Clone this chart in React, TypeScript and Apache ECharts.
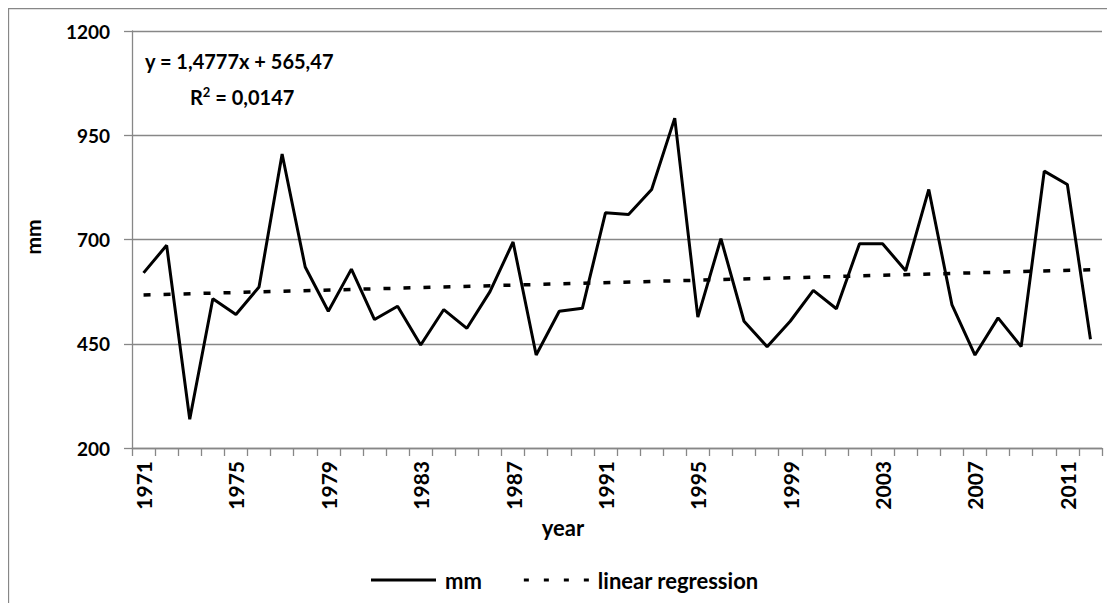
import React, { useEffect, useRef } from "react";
import * as echarts from "echarts";

const years = [
  "1971","1972","1973","1974","1975","1976","1977","1978","1979","1980",
  "1981","1982","1983","1984","1985","1986","1987","1988","1989","1990",
  "1991","1992","1993","1994","1995","1996","1997","1998","1999","2000",
  "2001","2002","2003","2004","2005","2006","2007","2008","2009","2010",
  "2011","2012",
];
const precipitation = [
  620, 686, 269, 558, 520, 586, 905, 634, 528, 629,
  508, 540, 447, 532, 487, 575, 694, 423, 528, 535,
  764, 760, 820, 991, 514, 702, 504, 443, 504, 578,
  534, 690, 690, 625, 820, 544, 423, 512, 443, 864,
  832, 461,
];
const trendEnds = [567, 627.5];
const yTicks = [200, 1200, 250];
const equationText = "y = 1,4777x + 565,47";
const r2Value = "0,0147";

const FONT = "Lato";
const GRAY = "#878787";

const SOLID_ICON = "path://M0,0H65V3H0Z";
const DASH_ICON = "path://M0,0H5V3H0Z M20,0H25V3H20Z M40,0H45V3H40Z M60,0H65V3H60Z";

export default function App() {
  const ref = useRef<HTMLDivElement>(null);
  useEffect(() => {
    if (!ref.current) return;
    const chart = echarts.init(ref.current, null, { renderer: "svg" });
    const trendData = [
      [0, trendEnds[0]],
      [years.length - 1, trendEnds[1]],
    ];
    chart.setOption({
      animation: false,
      backgroundColor: "#fff",
      grid: { left: 124, right: 13, top: 23, bottom: 155, containLabel: false },
      xAxis: {
        type: "category",
        data: years,
        boundaryGap: true,
        axisLine: { lineStyle: { color: GRAY, width: 1.3 } },
        axisTick: { show: true, length: 8, interval: 0, lineStyle: { color: GRAY, width: 1.3 } },
        axisLabel: {
          interval: 3,
          rotate: 90,
          margin: 13,
          color: "#000",
          fontFamily: FONT,
          fontWeight: "bold",
          fontSize: 21,
        },
        splitLine: { show: false },
      },
      yAxis: {
        type: "value",
        min: yTicks[0],
        max: yTicks[1],
        interval: yTicks[2],
        axisLine: { show: true, lineStyle: { color: GRAY, width: 1.3 } },
        axisTick: { show: true, length: 8, lineStyle: { color: GRAY, width: 1.3 } },
        axisLabel: {
          margin: 22,
          color: "#000",
          fontFamily: FONT,
          fontWeight: "bold",
          fontSize: 19,
          formatter: (v: number) => String(v),
        },
        splitLine: { show: true, lineStyle: { color: GRAY, width: 1.3 } },
      },
      legend: {
        left: 358,
        top: 556,
        itemWidth: 65,
        itemHeight: 3,
        itemGap: 42,
        textStyle: { color: "#000", fontFamily: FONT, fontWeight: "bold", fontSize: 22, padding: [0, 0, 0, 4] },
        data: [
          { name: "mm", icon: SOLID_ICON },
          { name: "linear regression", icon: DASH_ICON },
        ],
      },
      series: [
        {
          name: "mm",
          type: "line",
          data: precipitation,
          symbol: "none",
          lineStyle: { color: "#000", width: 3 },
          itemStyle: { color: "#000" },
          z: 3,
        },
        {
          name: "linear regression",
          type: "line",
          data: trendData,
          symbol: "none",
          lineStyle: { color: "#000", width: 3.5, type: [7, 13], cap: "butt" },
          itemStyle: { color: "#000" },
          z: 2,
        },
      ],
      graphic: [
        { type: "line", shape: { x1: 0.5, y1: 0, x2: 0.5, y2: 700 }, style: { stroke: GRAY, lineWidth: 1.3 } },
        { type: "line", shape: { x1: 0, y1: 0.5, x2: 1200, y2: 0.5 }, style: { stroke: GRAY, lineWidth: 1.3 } },
        {
          type: "text",
          left: 137,
          top: 43,
          style: { text: equationText, fill: "#000", font: `bold 20px ${FONT}` },
        },
        {
          type: "text",
          left: 182,
          top: 77,
          style: {
            text: "R{sup|2} = " + r2Value,
            fill: "#000",
            font: `bold 20px ${FONT}`,
            rich: {
              sup: { fontSize: 13, fontWeight: "bold", fontFamily: FONT, verticalAlign: "top", padding: [0, 0, 10, 0] },
            },
          },
        },
        {
          type: "text",
          x: 24,
          y: 229,
          rotation: Math.PI / 2,
          style: { text: "mm", fill: "#000", font: `bold 21px ${FONT}`, align: "center", verticalAlign: "middle" },
        },
        {
          type: "text",
          x: 555,
          y: 519,
          style: { text: "year", fill: "#000", font: `bold 22px ${FONT}`, align: "center", verticalAlign: "middle" },
        },
      ],
    });
    return () => chart.dispose();
  }, []);
  return <div ref={ref} style={{ width: 1107, height: 595 }} />;
}
